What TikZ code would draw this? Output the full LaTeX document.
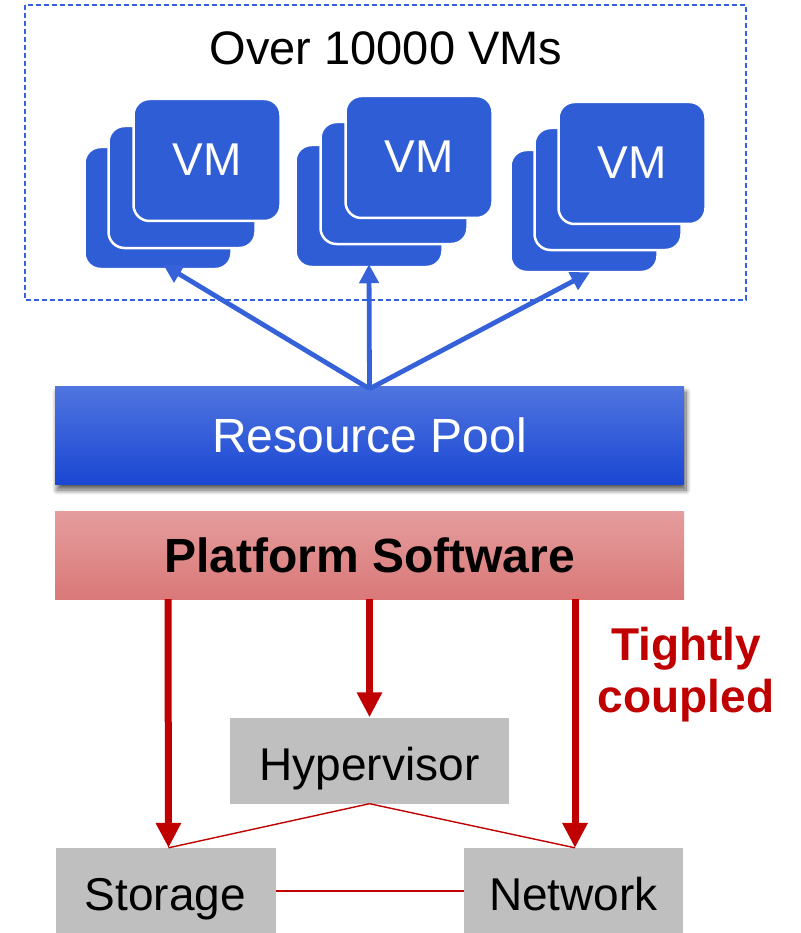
\documentclass[tikz,border=0pt]{standalone}
\usepackage{fontspec}
\setmainfont{Liberation Sans}
\usetikzlibrary{arrows.meta,shadows.blur,calc}
\definecolor{vmblue}{HTML}{2E5DD6}
\definecolor{arrowblue}{HTML}{3562D8}
\definecolor{poolTop}{HTML}{5075DF}
\definecolor{poolBot}{HTML}{1A47D3}
\definecolor{platTop}{HTML}{E59D9D}
\definecolor{platBot}{HTML}{DA7878}
\definecolor{darkred}{HTML}{C00000}
\definecolor{boxgray}{HTML}{BFBFBF}
\tikzset{
  card/.style={rounded corners=16pt, minimum width=147pt, minimum height=122pt,
    fill=vmblue, draw=white, line width=2.5pt, inner sep=0pt,
    text=white, font=\fontsize{46}{50}\selectfont},
  layerbox/.style={minimum width=629pt, inner sep=0pt},
  partbox/.style={fill=boxgray, inner sep=0pt, minimum height=86pt,
    text height=44pt, text depth=5pt,
    font=\fontsize{46}{50}\selectfont},
  bluearrow/.style={draw=arrowblue, line width=4.8pt,
    -{Triangle[length=19pt,width=19pt]}},
  redarrow/.style={draw=darkred, line width=7pt,
    -{Triangle[length=25pt,width=24pt]}},
  thinlink/.style={draw=darkred, line width=1.4pt},
}
\begin{document}
\begin{tikzpicture}[x=1pt,y=-1pt]
\useasboundingbox (0,0) rectangle (800,933);

% VM group frame
\draw[arrowblue, line width=2.2pt, dash pattern=on 5pt off 3pt] (25,5) rectangle (746,300);
\node[font=\fontsize{47}{50}\selectfont] (title) at (386,48) {Over 10000 VMs};

% three stacks of VM cards (back, middle, front)
\node[card] (b1) at (158,208) {};
\node[card] (m1) at (182,187) {};
\node[card] (f1) at (207,160) {VM};

\node[card] (b2) at (369,206) {};
\node[card] (m2) at (394,183) {};
\node[card] (f2) at (419,157) {VM};

\node[card] (b3) at (584,211) {};
\node[card] (m3) at (608,189) {};
\node[card] (f3) at (632,163) {VM};

% resource pool
\node[layerbox, minimum height=98pt, shading=axis, top color=poolTop, bottom color=poolBot,
  blur shadow={shadow xshift=2pt, shadow yshift=-6pt, shadow blur steps=10,
    shadow blur radius=5pt, shadow opacity=65},
  text=white, font=\fontsize{48}{52}\selectfont] (rp) at (369.5,435) {Resource Pool};

\coordinate (src) at ($(rp.north)+(0,3)$);
\draw[bluearrow] (src) -- ($(b1.south)+(5,-6)$);
\draw[bluearrow] (src) -- ($(b2.south)+(0,-4)$);
\draw[bluearrow] (src) -- ($(b3.south)+(6,-1)$);

% platform software
\node[layerbox, minimum height=88pt, shading=axis, top color=platTop, bottom color=platBot,
  font=\fontsize{48}{52}\selectfont\bfseries] (ps) at (369.5,555) {Platform Software};

% components
\node[partbox, minimum width=279pt] (hv) at (369.5,760.5) {Hypervisor};
\node[partbox, minimum width=220pt] (st) at (165.5,891) {Storage};
\node[partbox, minimum width=219pt] (nw) at (573.5,891) {Network};

% thin coupling links
\draw[thinlink] (hv.south) -- ($(st.north)+(3,0)$);
\draw[thinlink] (hv.south) -- ($(nw.north)+(1.5,0)$);
\draw[thinlink] (st.east) -- (nw.west);

% control arrows from platform software
\draw[redarrow] ($(ps.south)+(-201.5,0)$) -- ($(st.north)+(3,0)$);
\draw[redarrow] (ps.south) -- (hv.north);
\draw[redarrow] ($(ps.south)+(205.5,0)$) -- ($(nw.north)+(1.5,0)$);

\node[text=darkred, font=\fontsize{46}{52}\selectfont\bfseries, align=center] (tc) at (686,675) {Tightly\\coupled};
\end{tikzpicture}
\end{document}
